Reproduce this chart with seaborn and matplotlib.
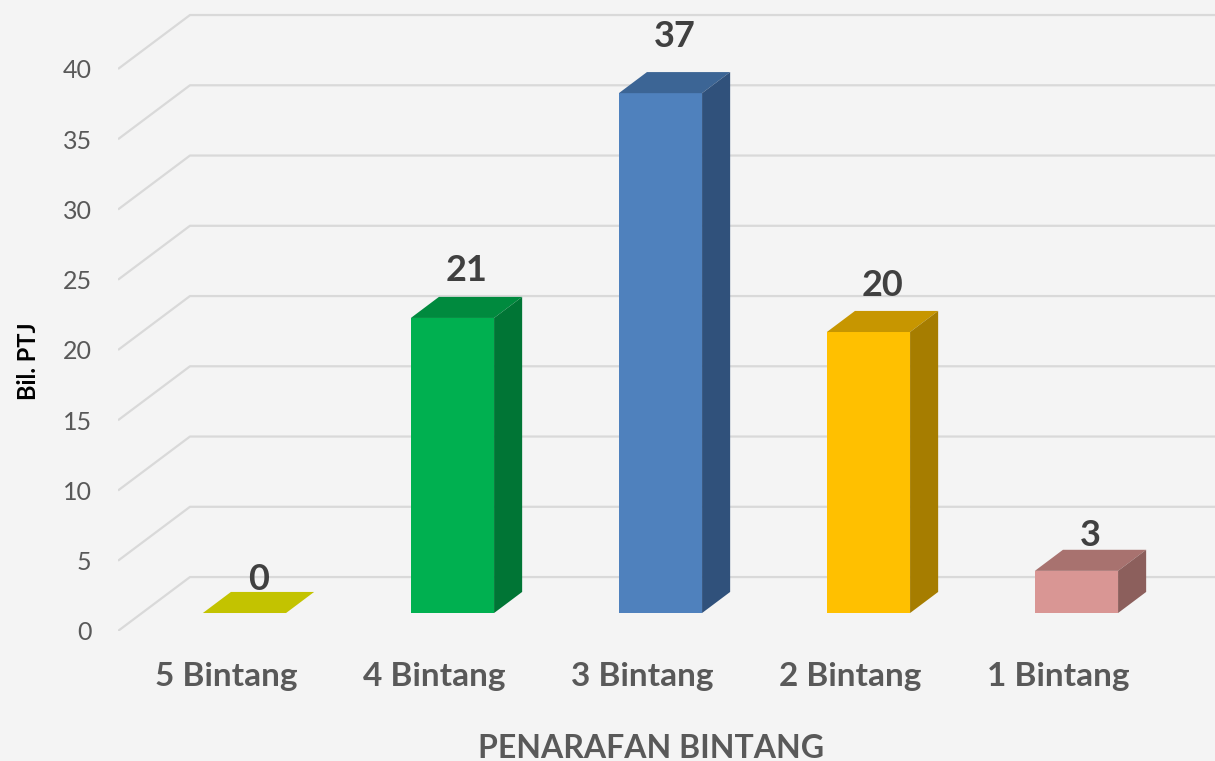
import matplotlib
matplotlib.use("Agg")
import matplotlib.pyplot as plt
import seaborn as sns

# data
categories = ["5 Bintang", "4 Bintang", "3 Bintang", "2 Bintang", "1 Bintang"]
counts = [0, 21, 37, 20, 3]
y_ticks = [0, 5, 10, 15, 20, 25, 30, 35, 40]

# colours: front / top / side of each bar
front_colors = ["#C3C300", "#00B050", "#4F81BD", "#FFC000", "#D99694"]
top_colors = ["#C3C300", "#008A3E", "#3C6595", "#C79600", "#A8726F"]
side_colors = ["#A3A300", "#007535", "#30517B", "#A67D00", "#8C5F5C"]

bg = "#F4F4F4"
grid_c = "#D9D9D9"
text_c = "#595959"

sns.set_style("white")
plt.rcParams["font.family"] = ["Lato", "DejaVu Sans"]

fig = plt.figure(figsize=(12.15, 7.61), dpi=100, facecolor=bg)
ax = fig.add_axes([118 / 1215, 130 / 761, 1 - 118 / 1215, 631 / 761])
ax.set_facecolor(bg)

# front faces of the bars
sns.barplot(x=categories, y=counts, hue=categories, palette=front_colors,
            width=0.4, saturation=1, legend=False, ax=ax, zorder=3,
            linewidth=0)

# fake 3d geometry (data units)
bar_dx, bar_dy = 0.135, 1.5      # depth of a bar
ff_dx, ff_dy = 0.115, 1.28       # bars sit behind the front floor edge
wall_dx, wall_dy = 0.346, 3.84   # front floor edge -> back wall
xlim = (-0.608, 4.666)
ylim = (-ff_dy, 43.63)

# back wall + side wall grid lines
for v in y_ticks:
    y0 = v - ff_dy
    ax.plot([xlim[0], xlim[0] + wall_dx, xlim[1]],
            [y0, y0 + wall_dy, y0 + wall_dy],
            color=grid_c, lw=1.6, zorder=1, solid_capstyle="butt")

# tops, sides and value labels
for i, cont in enumerate(ax.containers):
    bar = cont[0]
    x0, w, h = bar.get_x(), bar.get_width(), bar.get_height()
    top = [(x0, h), (x0 + w, h), (x0 + w + bar_dx, h + bar_dy), (x0 + bar_dx, h + bar_dy)]
    ax.fill(*zip(*top), color=top_colors[i], lw=0, zorder=4)
    if h > 0:
        side = [(x0 + w, 0), (x0 + w + bar_dx, bar_dy),
                (x0 + w + bar_dx, h + bar_dy), (x0 + w, h)]
        ax.fill(*zip(*side), color=side_colors[i], lw=0, zorder=4)
    ax.text(x0 + w / 2 + bar_dx / 2, h + bar_dy + 0.15 + 0.045 * h, f"{counts[i]}",
            ha="center", va="baseline", fontsize=26, fontweight="bold",
            color="#404040", zorder=5)

ax.set_xlim(*xlim)
ax.set_ylim(*ylim)

ax.set_yticks([v - ff_dy for v in y_ticks], [str(v) for v in y_ticks])
ax.set_xticks([i - 0.087 for i in range(len(categories))], categories)
ax.tick_params(axis="y", length=0, pad=19, labelsize=18, labelcolor=text_c)
ax.tick_params(axis="x", length=0, pad=22, labelsize=24, labelcolor=text_c)
for lab in ax.get_xticklabels():
    lab.set_fontweight("bold")

ax.set_xlabel("PENARAFAN BINTANG", fontsize=23, fontweight="bold", color=text_c)
ax.xaxis.set_label_coords(0.486, -0.163)
ax.set_ylabel("Bil. PTJ", fontsize=17, fontweight="bold", color="black")
ax.yaxis.set_label_coords(-0.071, 0.428)

sns.despine(ax=ax, left=True, bottom=True)

fig.savefig("out.png", dpi=100, facecolor=bg)
